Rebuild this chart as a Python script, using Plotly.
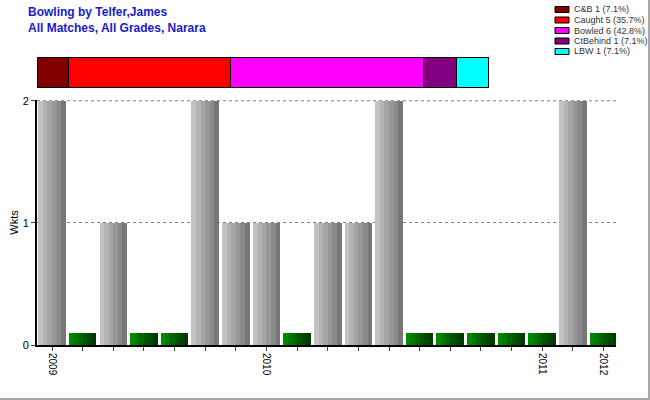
import plotly.graph_objects as go

# ---- data ----
matches = list(range(19))
wickets = [2, 0, 1, 0, 0, 2, 1, 1, 0, 1, 1, 2, 0, 0, 0, 0, 0, 2, 0]
tick_labels = ["2009", "", "", "", "", "", "", "2010", "", "", "", "", "", "", "", "", "2011", "", "2012"]
dismissal_types = ["C&B", "Caught", "Bowled", "CtBehind", "LBW"]
dismissal_counts = [1, 5, 6, 1, 1]
dismissal_pcts = ["7.1%", "35.7%", "42.8%", "7.1%", "7.1%"]
dismissal_colors = ["#800000", "#ff0000", "#ff00ff", "#800080", "#00ffff"]
ZERO_STUB = 0.1  # height used to display a wicketless match

gray_stripes = ["#c2c2c2", "#b3b3b3", "#a5a5a5", "#979797", "#898989", "#777777"]
green_stripes = ["#008a00", "#007800", "#006600", "#005500", "#004800", "#003a00"]

# layout geometry in window pixels
L, RIGHT, TOP, BOT = 37, 616, 57, 345
PW, PH = RIGHT - L, BOT - TOP


def px(x):
    return (x - L) / PW


def py(y):
    return (BOT - y) / PH


fig = go.Figure()
W = 0.9
n = len(gray_stripes)
sw = W / n
for k in range(n):
    fig.add_trace(go.Bar(
        x=matches, y=[v if v > 0 else None for v in wickets],
        width=sw, offset=-W / 2 + k * sw,
        marker=dict(color=gray_stripes[k], line=dict(width=0)),
        showlegend=False, hoverinfo="skip"))
    fig.add_trace(go.Bar(
        x=matches, y=[ZERO_STUB if v == 0 else None for v in wickets],
        width=sw, offset=-W / 2 + k * sw,
        marker=dict(color=green_stripes[k], line=dict(width=0)),
        showlegend=False, hoverinfo="skip"))

# stacked dismissal bar
base = 0
for name, cnt, col in zip(dismissal_types, dismissal_counts, dismissal_colors):
    fig.add_trace(go.Bar(
        x=[cnt], y=[0], base=[base], orientation="h", width=1,
        marker=dict(color=col, line=dict(color="black", width=1)),
        name=name, xaxis="x2", yaxis="y2", showlegend=False, hoverinfo="skip"))
    base += cnt

total = sum(dismissal_counts)

shapes = [
    dict(type="line", xref="paper", yref="y", x0=0, x1=1, y0=2, y1=2, layer="below",
         line=dict(color="#808080", width=1, dash="3px,3px")),
    dict(type="rect", xref="x2", yref="y2", x0=0, x1=total, y0=-0.5, y1=0.5,
         line=dict(color="black", width=2)),
    dict(type="line", xref="paper", yref="paper", x0=px(649), x1=px(649),
         y0=py(400), y1=py(0), line=dict(color="#a8a8a8", width=2)),
    dict(type="line", xref="paper", yref="paper", x0=px(0), x1=px(650),
         y0=py(399), y1=py(399), line=dict(color="#a8a8a8", width=2)),
]
annotations = [
    dict(text="<b>Bowling by Telfer,James<br>All Matches, All Grades, Narara</b>",
         xref="paper", yref="paper", x=px(26), y=py(19.5), xanchor="left", yanchor="middle",
         align="left", showarrow=False,
         font=dict(family="Liberation Sans, Arial, sans-serif", size=12, color="#1a1acc")),
]

# manual legend
for i, (name, cnt, pct, col) in enumerate(zip(dismissal_types, dismissal_counts, dismissal_pcts, dismissal_colors)):
    yc = 9.5 + i * 10.5
    shapes.append(dict(type="rect", xref="paper", yref="paper",
                       x0=px(555), x1=px(569), y0=py(yc + 3), y1=py(yc - 3),
                       fillcolor=col, line=dict(color="black", width=1)))
    annotations.append(dict(text=f"{name} {cnt} ({pct})", xref="paper", yref="paper",
                            x=px(572), y=py(yc), xanchor="left", yanchor="middle",
                            showarrow=False, font=dict(size=9, color="#333")))

fig.update_layout(
    width=650, height=400,
    margin=dict(l=L, r=650 - RIGHT, t=TOP, b=400 - BOT, autoexpand=False),
    paper_bgcolor="white", plot_bgcolor="white",
    barmode="overlay", bargap=0, showlegend=False,
    font=dict(family="Liberation Sans, Arial, sans-serif", size=11, color="black"),
    xaxis=dict(range=[-0.49, 18.41], tickvals=matches, ticktext=tick_labels,
               tickangle=90, ticks="outside", ticklen=4, tickcolor="#444",
               showline=True, linecolor="black", linewidth=2, showgrid=False,
               zeroline=False, tickfont=dict(size=10), domain=[0, 1]),
    yaxis=dict(range=[0, 2.006], tickvals=[0, 1, 2], ticks="outside", ticklen=4,
               tickcolor="#444", showline=True, linecolor="black", linewidth=2,
               showgrid=True, gridcolor="#808080", griddash="3px,3px", gridwidth=1,
               zeroline=False, domain=[0, (BOT - 100) / PH],
               title=dict(text="Wkts", standoff=2, font=dict(size=11))),
    xaxis2=dict(range=[0, total], domain=[0, 452 / PW], visible=False, anchor="y2"),
    yaxis2=dict(range=[-0.5, 0.5], domain=[py(88), 1], visible=False, anchor="x2"),
    shapes=shapes,
    annotations=annotations,
)

fig.write_html("out.html", config={"displayModeBar": False},
               post_script="document.body.style.margin='0';")
